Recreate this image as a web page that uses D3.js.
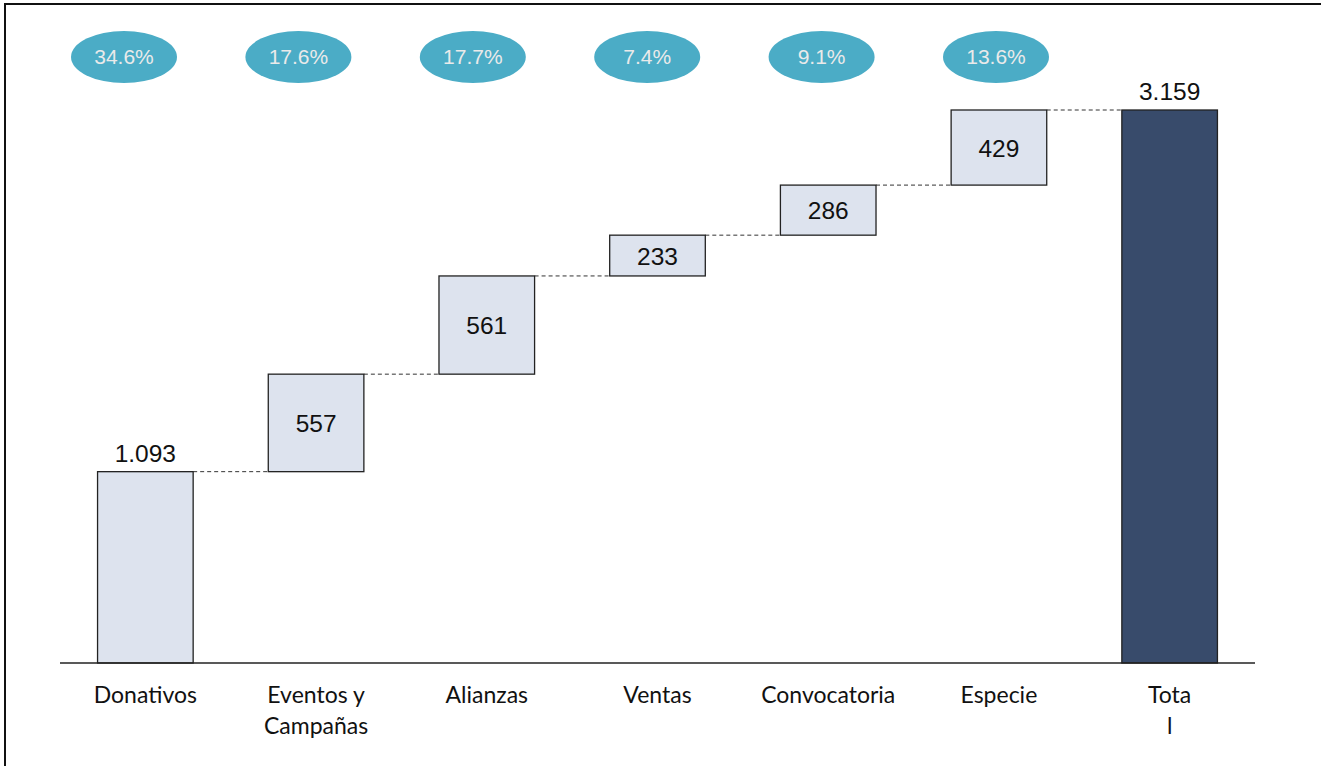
<!DOCTYPE html>
<html>
<head>
<meta charset="utf-8">
<script src="https://cdn.jsdelivr.net/npm/d3@7"></script>
<style>
  body { margin: 0; background: #fff; }
  svg { display: block; }
</style>
</head>
<body>
<div class="container"></div>
<script>
const categories = ['Donativos', 'Eventos y|Campañas', 'Alianzas', 'Ventas', 'Convocatoria', 'Especie', 'Tota|l'],
    values = [1093, 557, 561, 233, 286, 429],
    total = 3159,
    shares = ['34.6%', '17.6%', '17.7%', '7.4%', '9.1%', '13.6%'];

const width = 1321,
    height = 766,
    baseY = 663;

const svg = d3.select('.container')
    .append('svg')
    .attr('width', width)
    .attr('height', height);

// frame: top and left rules
svg.append('line').attr('x1', 4).attr('x2', width).attr('y1', 4).attr('y2', 4)
    .attr('stroke', '#111').attr('stroke-width', 2);
svg.append('line').attr('x1', 5).attr('x2', 5).attr('y1', 3).attr('y2', height)
    .attr('stroke', '#111').attr('stroke-width', 2);

const xScale = d3.scaleBand()
    .domain(categories)
    .range([60, 1255])
    .paddingInner(0.44)
    .paddingOuter(0.22);

const yScale = d3.scaleLinear()
    .domain([0, total])
    .range([baseY, 110]);

// waterfall steps
let run = 0;
const steps = values.map((v, i) => {
    const s = {cat: categories[i], start: run, end: run + v, value: v};
    run += v;
    return s;
});
steps.push({cat: categories[6], start: 0, end: total, value: total, isTotal: true});

// connectors
steps.slice(0, -1).forEach((s, i) => {
    const next = steps[i + 1];
    svg.append('line')
        .attr('x1', xScale(s.cat) + xScale.bandwidth())
        .attr('x2', xScale(next.cat))
        .attr('y1', yScale(s.end))
        .attr('y2', yScale(s.end))
        .attr('stroke', '#333')
        .attr('stroke-width', 1)
        .attr('stroke-dasharray', '4,3');
});

svg.selectAll('rect.bar')
    .data(steps)
    .enter()
    .append('rect')
    .attr('class', 'bar')
    .attr('x', d => xScale(d.cat))
    .attr('width', xScale.bandwidth())
    .attr('y', d => yScale(d.end))
    .attr('height', d => yScale(d.start) - yScale(d.end))
    .attr('fill', d => d.isTotal ? '#384b6b' : '#dde3ee')
    .attr('stroke', '#222')
    .attr('stroke-width', 1.3);

const fmt = v => v >= 1000 ? d3.format(',')(v).replace(',', '.') : String(v);

// value labels: first and total above, others centred
svg.selectAll('text.val')
    .data(steps)
    .enter()
    .append('text')
    .attr('class', 'val')
    .attr('x', d => xScale(d.cat) + xScale.bandwidth() / 2)
    .attr('y', (d, i) => (i === 0 || d.isTotal)
        ? yScale(d.end) - 10
        : (yScale(d.start) + yScale(d.end)) / 2 + 9)
    .attr('text-anchor', 'middle')
    .attr('font-family', 'Liberation Sans, Arial, sans-serif')
    .attr('font-size', 24.5)
    .attr('fill', '#111')
    .text(d => fmt(d.value));

// baseline
svg.append('line')
    .attr('x1', 60).attr('x2', 1255)
    .attr('y1', baseY).attr('y2', baseY)
    .attr('stroke', '#222').attr('stroke-width', 1.5);

// category labels
const catText = svg.selectAll('text.cat')
    .data(categories)
    .enter()
    .append('text')
    .attr('class', 'cat')
    .attr('text-anchor', 'middle')
    .attr('font-family', 'Lato, Open Sans, sans-serif')
    .attr('font-size', 23)
    .attr('fill', '#111');
catText.each(function (c) {
    const parts = c.split('|');
    parts.forEach((p, j) => {
        d3.select(this).append('tspan')
            .attr('x', xScale(c) + xScale.bandwidth() / 2)
            .attr('y', 703 + j * 31)
            .text(p);
    });
});

// share ellipses
const shareScale = d3.scalePoint()
    .domain(shares.map((s, i) => i))
    .range([124, 996]);

const pills = svg.selectAll('g.share')
    .data(shares)
    .enter()
    .append('g')
    .attr('class', 'share')
    .attr('transform', (d, i) => `translate(${shareScale(i)}, 57)`);
pills.append('ellipse')
    .attr('rx', 53)
    .attr('ry', 26)
    .attr('fill', '#4bacc6');
pills.append('text')
    .attr('text-anchor', 'middle')
    .attr('y', 7)
    .attr('font-family', 'Liberation Sans, Arial, sans-serif')
    .attr('font-size', 21)
    .attr('fill', '#eaeaea')
    .text(d => d);
</script>
</body>
</html>
